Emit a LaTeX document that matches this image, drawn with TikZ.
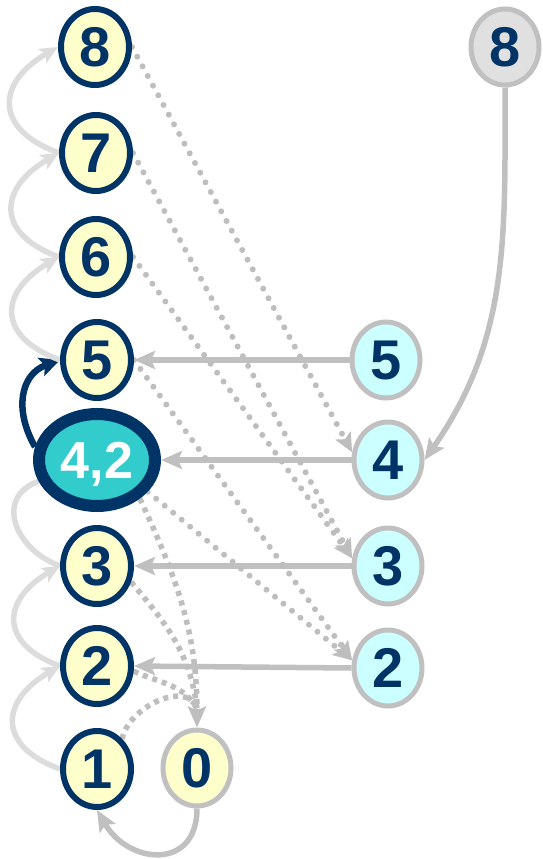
\documentclass[tikz,border=0pt]{standalone}
\usepackage{fontspec}
\setmainfont{Liberation Sans}
\usetikzlibrary{shapes.geometric,arrows.meta,backgrounds}
\definecolor{dblue}{HTML}{003366}
\definecolor{lyellow}{HTML}{FFFFCC}
\definecolor{lcyan}{HTML}{CCFFFF}
\definecolor{tealc}{HTML}{33CCCC}
\definecolor{lgray}{HTML}{C0C0C0}
\definecolor{vlgray}{HTML}{DCDCDC}
\definecolor{dotgray}{HTML}{BEBEBE}
\definecolor{boxgray}{HTML}{E0E0E0}
\tikzset{
  num/.style={ellipse, inner sep=0pt, minimum width=68pt, minimum height=76pt,
    font=\fontsize{56}{56}\selectfont\bfseries, text=dblue, text depth=0pt},
  lnode/.style={num, draw=dblue, line width=6pt, fill=lyellow},
  rnode/.style={num, draw=lgray, line width=5pt, fill=lcyan},
  bignode/.style={num, draw=dblue, line width=12pt, fill=tealc, text=white,
    font=\fontsize{52}{52}\selectfont\bfseries,
    minimum width=116pt, minimum height=92pt},
  solidarrow/.style={draw=lgray, line width=5.5pt,
    -{Stealth[length=21pt,width=18pt,inset=4pt]}},
  arcarrow/.style={draw=vlgray, line width=5.5pt,
    -{Stealth[length=18pt,width=16pt,inset=4pt]}},
  arcplain/.style={draw=vlgray, line width=5.5pt},
  bluearrow/.style={draw=dblue, line width=6.5pt,
    -{Stealth[length=20pt,width=19pt,inset=4pt]}},
  dotline/.style={draw=dotgray, line width=6pt, line cap=round,
    dash pattern=on 0pt off 11pt},
  dotarrow/.style={dotline, -{Stealth[length=19pt,width=17pt,inset=4pt]}},
  sqline/.style={draw=dotgray, line width=5.5pt, dash pattern=on 5pt off 5pt},
  sqarrow/.style={sqline, -{Stealth[length=21pt,width=18pt,inset=4pt]}},
}
\begin{document}
\begin{tikzpicture}[x=1pt,y=-1pt]
\useasboundingbox (0,0) rectangle (543,859);
% left column
\node[lnode] (L8) at (95,47) {8};
\node[lnode] (L7) at (96,153) {7};
\node[lnode] (L6) at (96,257) {6};
\node[lnode] (L5) at (97,360) {5};
\node[bignode] (L42) at (97,460) {4,2};
\node[lnode] (L3) at (97,566) {3};
\node[lnode] (L2) at (97,666) {2};
\node[lnode] (L1) at (97,769) {1};
\node[num, draw=lgray, line width=5pt, fill=lyellow] (L0) at (197,768) {0};
% right column
\node[num, draw=lgray, line width=5pt, fill=boxgray] (R8) at (505,47) {8};
\node[rnode] (R5) at (386,360) {5};
\node[rnode] (R4) at (388,460) {4};
\node[rnode] (R3) at (388,566) {3};
\node[rnode] (R2) at (388,668) {2};
\begin{pgfonlayer}{background}
% left arcs
\draw[arcarrow] (L1.west) to[out=160,in=210,looseness=1.7] (L2.west);
\draw[arcarrow] (L2.west) to[out=160,in=210,looseness=1.7] (L3.west);
\draw[arcplain] (L3.west) to[out=160,in=200,looseness=1.4] (L42.200);
\draw[bluearrow] (L42.168) to[out=120,in=200,looseness=1.2] (L5.west);
\draw[arcarrow] (L5.west) to[out=160,in=210,looseness=1.7] (L6.west);
\draw[arcarrow] (L6.west) to[out=160,in=210,looseness=1.7] (L7.west);
\draw[arcarrow] (L7.west) to[out=160,in=210,looseness=1.7] (L8.west);
% solid horizontal arrows
\draw[solidarrow] (R5.west) -- (L5.east);
\draw[solidarrow] (R4.west) -- (L42.east);
\draw[solidarrow] (R3.west) -- (L3.east);
\draw[solidarrow] (R2.west) -- (L2.east);
\draw[solidarrow] (R8.south) to[out=-90,in=55] (R4.east);
\draw[solidarrow] (L0.south) to[out=-90,in=-60,looseness=1.6] (L1.south);
% round-dotted
\draw[dotarrow] (L8.east) -- (R4.168);
\draw[dotarrow] (L7.east) -- (R3.168);
\draw[dotarrow] (L6.east) -- (R3.168);
\draw[dotarrow] (L5.east) -- (R2.168);
\draw[dotarrow] (L42.-32) -- (R2.168);
% square-dotted to 0
\draw[sqarrow] (L42.-42) to[out=-65,in=90] (L0.north);
\draw[sqline] (L3.-25) to[out=-50,in=97] ([yshift=19pt]L0.north);
\draw[sqline] (L2.-8) to[out=-25,in=120] ([yshift=19pt]L0.north);
\draw[sqline] (L1.50) to[out=80,in=110] ([yshift=19pt]L0.north);
\end{pgfonlayer}
\end{tikzpicture}
\end{document}
